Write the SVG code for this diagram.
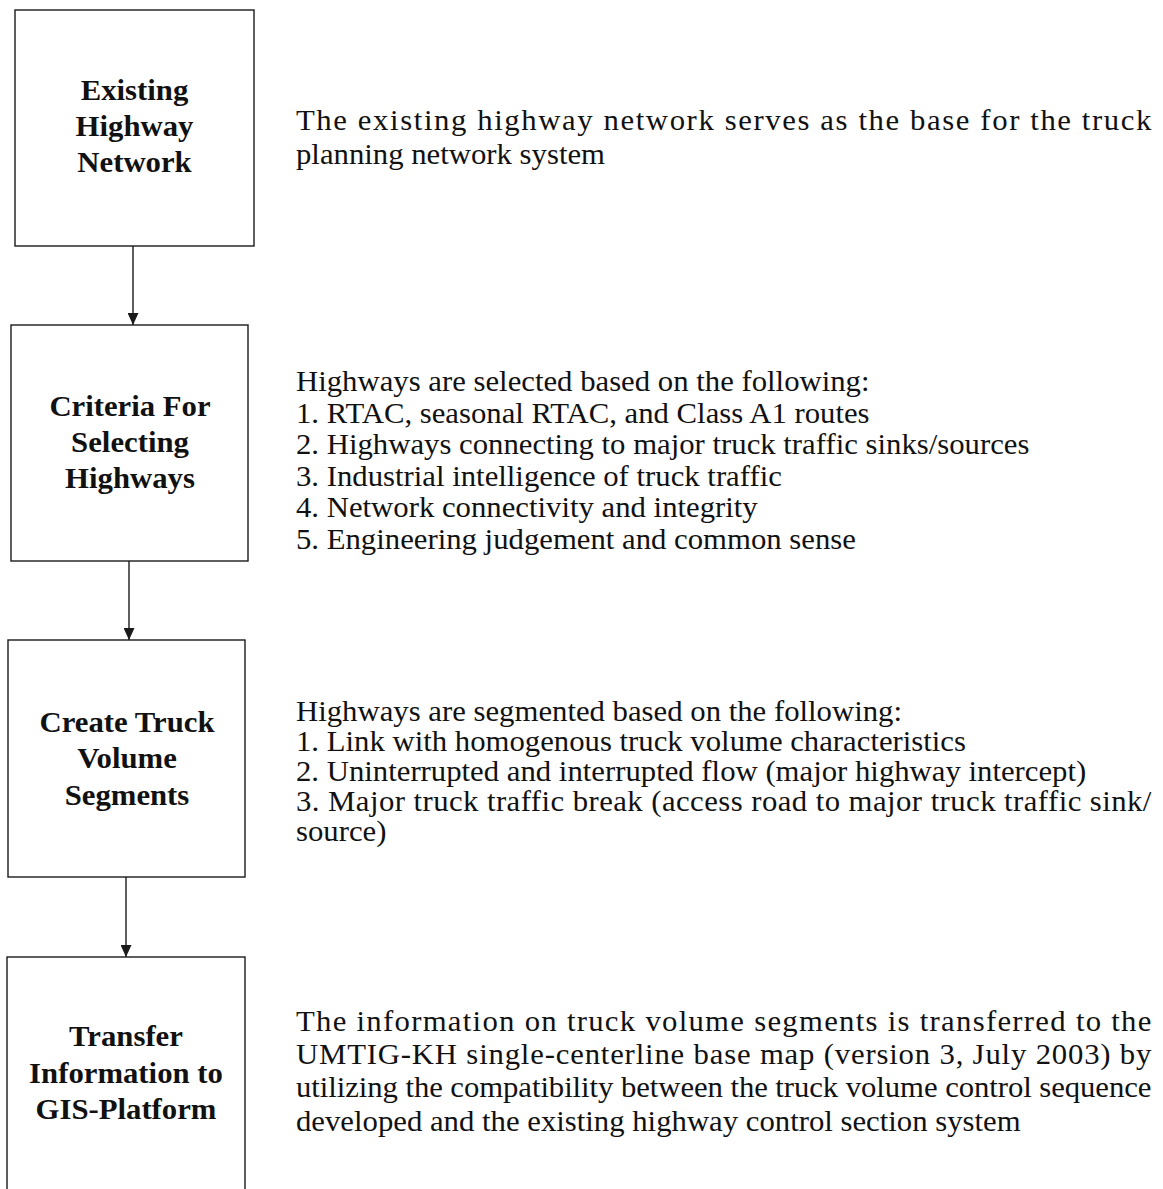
<svg xmlns="http://www.w3.org/2000/svg" width="1163" height="1189" viewBox="0 0 1163 1189">
<style>
.box{fill:#fff;stroke:#1a1a1a;stroke-width:1.4}
.lbl{font-family:"Liberation Serif","Times New Roman",serif;font-weight:bold;font-size:29px;fill:#111;text-anchor:middle}
.body{font-family:"Liberation Serif","Times New Roman",serif;font-size:29px;fill:#111}
.conn{stroke:#1a1a1a;stroke-width:1.4;fill:none}
</style>
<defs>
<marker id="ah" viewBox="0 0 12 11" refX="12" refY="5.5" markerWidth="12" markerHeight="11" markerUnits="userSpaceOnUse" orient="auto">
<path d="M0,0 L12,5.5 L0,11 Z" fill="#1a1a1a"/>
</marker>
</defs>
<rect width="1163" height="1189" fill="#fff"/>
<g id="connectors">
<line class="conn" x1="133" y1="246" x2="133" y2="325" marker-end="url(#ah)"/>
<line class="conn" x1="129" y1="561" x2="129" y2="640" marker-end="url(#ah)"/>
<line class="conn" x1="126" y1="877" x2="126" y2="957" marker-end="url(#ah)"/>
</g>
<g id="node1">
<rect class="box" x="15" y="10" width="239" height="236"/>
<g transform="translate(134.5 0) scale(1.06 1)">
<text class="lbl" x="0" y="100">Existing</text>
<text class="lbl" x="0" y="136">Highway</text>
<text class="lbl" x="0" y="172">Network</text>
</g>
</g>
<g id="node2">
<rect class="box" x="11" y="325" width="237" height="236"/>
<g transform="translate(130 0) scale(1.06 1)">
<text class="lbl" x="0" y="416">Criteria For</text>
<text class="lbl" x="0" y="452">Selecting</text>
<text class="lbl" x="0" y="488">Highways</text>
</g>
</g>
<g id="node3">
<rect class="box" x="8" y="640" width="237" height="237"/>
<g transform="translate(127 0) scale(1.06 1)">
<text class="lbl" x="0" y="732">Create Truck</text>
<text class="lbl" x="0" y="768">Volume</text>
<text class="lbl" x="0" y="805">Segments</text>
</g>
</g>
<g id="node4">
<rect class="box" x="7" y="957" width="238" height="240"/>
<g transform="translate(126 0) scale(1.06 1)">
<text class="lbl" x="0" y="1046">Transfer</text>
<text class="lbl" x="0" y="1083">Information to</text>
<text class="lbl" x="0" y="1119">GIS-Platform</text>
</g>
</g>
<g id="desc1" transform="translate(296 0) scale(1.06 1)">
<text class="body" x="0" y="130" textLength="807" lengthAdjust="spacing">The existing highway network serves as the base for the truck</text>
<text class="body" x="0" y="164">planning network system</text>
</g>
<g id="desc2" transform="translate(296 0) scale(1.06 1)">
<text class="body" x="0" y="391">Highways are selected based on the following:</text>
<text class="body" x="0" y="423">1. RTAC, seasonal RTAC, and Class A1 routes</text>
<text class="body" x="0" y="454">2. Highways connecting to major truck traffic sinks/sources</text>
<text class="body" x="0" y="486">3. Industrial intelligence of truck traffic</text>
<text class="body" x="0" y="517">4. Network connectivity and integrity</text>
<text class="body" x="0" y="549">5. Engineering judgement and common sense</text>
</g>
<g id="desc3" transform="translate(296 0) scale(1.06 1)">
<text class="body" x="0" y="721">Highways are segmented based on the following:</text>
<text class="body" x="0" y="751">1. Link with homogenous truck volume characteristics</text>
<text class="body" x="0" y="781">2. Uninterrupted and interrupted flow (major highway intercept)</text>
<text class="body" x="0" y="811" textLength="807" lengthAdjust="spacing">3. Major truck traffic break (access road to major truck traffic sink/</text>
<text class="body" x="0" y="841">source)</text>
</g>
<g id="desc4" transform="translate(296 0) scale(1.06 1)">
<text class="body" x="0" y="1031" textLength="807" lengthAdjust="spacing">The information on truck volume segments is transferred to the</text>
<text class="body" x="0" y="1064" textLength="807" lengthAdjust="spacing">UMTIG-KH single-centerline base map (version 3, July 2003) by</text>
<text class="body" x="0" y="1097" textLength="807" lengthAdjust="spacing">utilizing the compatibility between the truck volume control sequence</text>
<text class="body" x="0" y="1131">developed and the existing highway control section system</text>
</g>
</svg>
